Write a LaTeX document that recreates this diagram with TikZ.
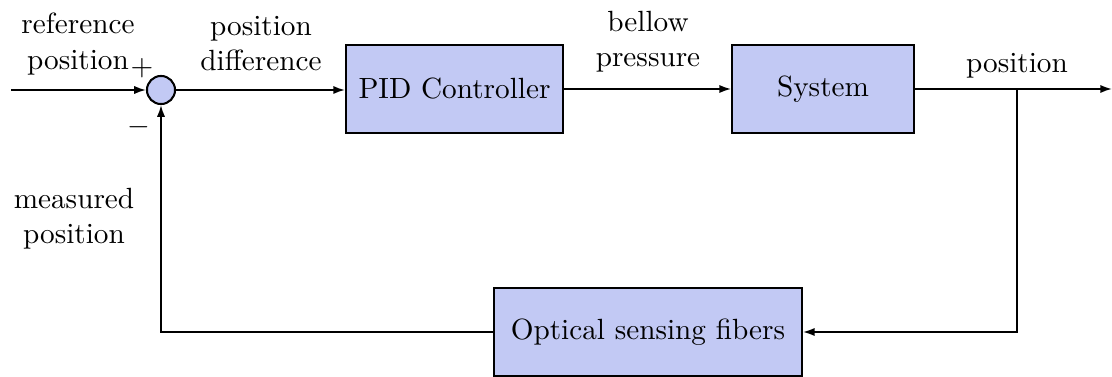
\documentclass[tikz,border=0pt]{standalone}
\usetikzlibrary{arrows.meta}
\definecolor{boxfill}{RGB}{194,201,244}
\begin{document}
\begin{tikzpicture}[x=0.342pt,y=-0.342pt,
  blockbox/.style={draw=black,fill=boxfill,line width=0.7pt,minimum height=30.1pt,inner sep=0pt,align=center},
  sumnode/.style={circle,draw=black,fill=boxfill,line width=0.7pt,minimum size=9.6pt,inner sep=0pt},
  conn/.style={line width=0.6pt},
  arr/.style={conn,-{Latex[length=4pt,width=2.8pt]}},
  lbl/.style={align=center,inner sep=0pt}]
\useasboundingbox (0,0) rectangle (1112,377);
% nodes
\node[sumnode] (sum) at (161,90) {};
\node[blockbox,minimum width=74.2pt] (pid) at (454.5,89) {PID Controller};
\node[blockbox,minimum width=62.2pt] (sys) at (823,89) {System};
\node[blockbox,minimum width=105.3pt,minimum height=30.4pt] (opt) at (648,332) {Optical sensing fibers};
\coordinate (in) at (11,90);
\coordinate (out) at (1112,89);
\coordinate (branch) at (1017,89);
\coordinate (br2) at (branch |- opt.east);
\coordinate (fb) at (sum |- opt.west);
% connectors
\draw[arr] (in) -- (sum.west);
\draw[arr] (sum.east) -- (pid.west |- sum.east);
\draw[arr] (pid.east) -- (sys.west);
\draw[arr] (sys.east) -- (out);
\draw[arr] (branch) -- (br2) -- (opt.east);
\draw[arr] (opt.west) -- (fb) -- (sum.south);
% labels
\node[lbl] (l1) at (78,44) {reference\\position};
\node[lbl] (l2) at (261,44) {position\\difference};
\node[lbl] (l3) at (648,42) {bellow\\pressure};
\node[lbl] (l4) at (1017,66) {position};
\node[lbl] (l5) at (74,219) {measured\\position};
\node[inner sep=0pt] (plus) at (142,68) {$+$};
\node[inner sep=0pt] (minus) at (139,127) {$-$};
\end{tikzpicture}
\end{document}
